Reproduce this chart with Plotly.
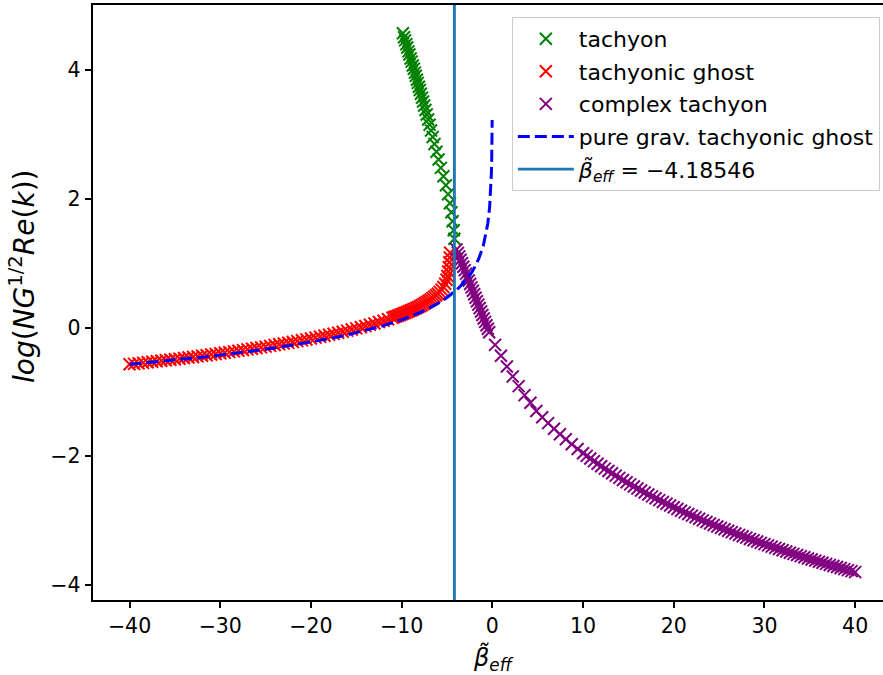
import plotly.graph_objects as go

# ---------------- data ----------------
BETA_EFF = -4.18546

green_x = [-9.86, -9.73, -9.62, -9.49, -9.38, -9.25, -9.14, -9.01, -8.90, -8.77,
           -8.66, -8.54, -8.44, -8.32, -8.22, -8.10, -8.00, -7.88, -7.76, -7.64,
           -7.52, -7.38, -7.24, -7.08, -6.92, -6.76, -6.58, -6.38, -6.16, -5.93,
           -5.68, -5.40, -5.12, -4.88, -4.68, -4.52, -4.38, -4.26, -4.19]
green_y = [4.57, 4.51, 4.46, 4.40, 4.35, 4.29, 4.24, 4.18, 4.13, 4.07,
           4.02, 3.96, 3.91, 3.85, 3.80, 3.74, 3.69, 3.63, 3.57, 3.51,
           3.45, 3.38, 3.31, 3.23, 3.15, 3.06, 2.96, 2.85, 2.73, 2.61,
           2.48, 2.35, 2.21, 2.07, 1.93, 1.79, 1.65, 1.51, 1.38]

red_x = [-40.0, -39.5, -39.0, -38.5, -38.0, -37.5, -37.0, -36.5, -36.0, -35.5,
         -35.0, -34.5, -34.0, -33.5, -33.0, -32.5, -32.0, -31.5, -31.0, -30.5,
         -30.0, -29.5, -29.0, -28.5, -28.0, -27.5, -27.0, -26.5, -26.0, -25.5,
         -25.0, -24.5, -24.0, -23.5, -23.0, -22.5, -22.0, -21.5, -21.0, -20.5,
         -20.0, -19.5, -19.0, -18.5, -18.0, -17.5, -17.0, -16.5, -16.0, -15.5,
         -15.0, -14.5, -14.0, -13.5, -13.0, -12.5, -12.0, -11.5, -11.0,
         -10.8, -10.6, -10.4, -10.2, -10.0, -9.8, -9.6, -9.4, -9.2, -9.0,
         -8.8, -8.6, -8.4, -8.2, -8.0, -7.8, -7.6, -7.4, -7.2, -7.0,
         -6.8, -6.6, -6.4, -6.2, -6.0, -5.8, -5.6, -5.4, -5.2,
         -5.05, -4.95, -4.87, -4.80, -4.74, -4.69, -4.65]
red_y = [-0.572, -0.565, -0.557, -0.549, -0.541, -0.533, -0.525, -0.517, -0.509, -0.501,
         -0.492, -0.484, -0.474, -0.466, -0.457, -0.448, -0.439, -0.430, -0.420, -0.411,
         -0.401, -0.391, -0.382, -0.371, -0.361, -0.351, -0.340, -0.330, -0.318, -0.308,
         -0.297, -0.285, -0.273, -0.261, -0.249, -0.237, -0.224, -0.211, -0.199, -0.185,
         -0.171, -0.157, -0.143, -0.128, -0.113, -0.098, -0.082, -0.065, -0.049, -0.031,
         -0.014, 0.004, 0.024, 0.043, 0.063, 0.085, 0.106, 0.129, 0.152,
         0.163, 0.173, 0.183, 0.194, 0.205, 0.217, 0.228, 0.240, 0.252, 0.265,
         0.277, 0.290, 0.303, 0.317, 0.331, 0.347, 0.363, 0.380, 0.398, 0.416,
         0.436, 0.456, 0.477, 0.500, 0.525, 0.554, 0.588, 0.628, 0.679,
         0.741, 0.801, 0.869, 0.937, 1.013, 1.088, 1.162]

purple_x = [-3.95, -3.8, -3.65, -3.5, -3.35, -3.2, -3.05, -2.9, -2.75, -2.6,
            -2.45, -2.3, -2.15, -2.0, -1.85, -1.7, -1.55, -1.4, -1.25, -1.1,
            -0.95, -0.8, -0.65, -0.5, -0.35,
            0.3, 0.95, 1.6, 2.25, 2.9, 3.55, 4.2, 4.85, 5.5, 6.15,
            6.8, 7.45, 8.1, 8.75, 9.4, 10.0,
            10.4, 10.8, 11.2, 11.6, 12.0, 12.4, 12.8, 13.2, 13.6, 14.0,
            14.4, 14.8, 15.2, 15.6, 16.0, 16.4, 16.8, 17.2, 17.6, 18.0,
            18.4, 18.8, 19.2, 19.6, 20.0, 20.4, 20.8, 21.2, 21.6, 22.0,
            22.4, 22.8, 23.2, 23.6, 24.0, 24.4, 24.8, 25.2, 25.6, 26.0,
            26.4, 26.8, 27.2, 27.6, 28.0, 28.4, 28.8, 29.2, 29.6, 30.0,
            30.4, 30.8, 31.2, 31.6, 32.0, 32.4, 32.8, 33.2, 33.6, 34.0,
            34.4, 34.8, 35.2, 35.6, 36.0, 36.4, 36.8, 37.2, 37.6, 38.0,
            38.4, 38.8, 39.2, 39.6, 40.0]
purple_y = [1.212, 1.159, 1.105, 1.052, 0.998, 0.944, 0.891, 0.837, 0.784, 0.730,
            0.677, 0.623, 0.570, 0.516, 0.462, 0.409, 0.355, 0.302, 0.248, 0.195,
            0.141, 0.088, 0.034, -0.020, -0.073,
            -0.27, -0.44, -0.605, -0.76, -0.91, -1.05, -1.17, -1.296, -1.393, -1.485,
            -1.573, -1.657, -1.737, -1.813, -1.887, -1.952,
            -1.994, -2.036, -2.076, -2.116, -2.154, -2.192, -2.229, -2.265, -2.301, -2.336,
            -2.370, -2.404, -2.437, -2.469, -2.501, -2.532, -2.563, -2.594, -2.623, -2.653,
            -2.681, -2.710, -2.738, -2.765, -2.793, -2.819, -2.846, -2.872, -2.897, -2.922,
            -2.947, -2.972, -2.996, -3.020, -3.044, -3.067, -3.090, -3.113, -3.135, -3.157,
            -3.179, -3.201, -3.222, -3.243, -3.264, -3.285, -3.305, -3.325, -3.345, -3.365,
            -3.385, -3.404, -3.423, -3.442, -3.461, -3.479, -3.498, -3.516, -3.534, -3.552,
            -3.569, -3.587, -3.604, -3.621, -3.638, -3.655, -3.672, -3.688, -3.704, -3.721,
            -3.737, -3.753, -3.769, -3.784, -3.800]

blue_x = [-40, -38, -36, -34, -32, -30, -28, -26, -24, -22, -20, -18, -16, -14, -12,
          -10, -9, -8, -7, -6, -5, -4.5, -4, -3.5, -3, -2.5, -2, -1.5, -1, -0.7,
          -0.5, -0.3, -0.2, -0.15, -0.1, -0.07, -0.05, -0.04, -0.03, -0.02]
blue_y = [-0.572, -0.547, -0.519, -0.491, -0.461, -0.429, -0.394, -0.357, -0.317, -0.273,
          -0.226, -0.173, -0.115, -0.048, 0.029, 0.120, 0.173, 0.232, 0.298, 0.375,
          0.466, 0.519, 0.578, 0.644, 0.721, 0.812, 0.924, 1.068, 1.270, 1.448,
          1.616, 1.871, 2.074, 2.218, 2.420, 2.598, 2.766, 2.878, 3.021, 3.224]

x_ticks = [-40, -30, -20, -10, 0, 10, 20, 30, 40]
y_ticks = [-4, -2, 0, 2, 4]

# ---------------- figure ----------------
FONT = "DejaVu Sans"
W, H = 883, 675
L, R, T, B = 93, 0, 5, 75
PW, PH = W - L - R, H - T - B

fig = go.Figure()


def xmark(color):
    return dict(symbol="x-thin", size=12, color=color, line=dict(color=color, width=2))


fig.add_trace(go.Scatter(x=green_x, y=green_y, mode="markers", name="tachyon",
                         marker=xmark("#008000"), legendgroup="a"))
fig.add_trace(go.Scatter(x=red_x, y=red_y, mode="markers", name="tachyonic ghost",
                         marker=xmark("#ff0000"), legendgroup="b"))
fig.add_trace(go.Scatter(x=purple_x, y=purple_y, mode="markers", name="complex tachyon",
                         marker=xmark("#800080"), legendgroup="c"))
fig.add_trace(go.Scatter(x=blue_x, y=blue_y, mode="lines", name="pure grav. tachyonic ghost",
                         line=dict(color="#0000ff", width=3, dash="12px,5px"),
                         legendgroup="d"))

fig.add_shape(type="line", xref="x", yref="paper", x0=BETA_EFF, x1=BETA_EFF, y0=0, y1=1,
              line=dict(color="#1f77b4", width=2.9), layer="above",
              showlegend=True, legendgroup="e",
              name="<i>β̃</i><sub><i>eff</i></sub> = −4.18546")

axis_common = dict(showgrid=False, zeroline=False, showline=True, linecolor="black",
                   linewidth=1.5, ticks="outside", ticklen=6.7, tickwidth=1.5,
                   tickcolor="black", tickfont=dict(family=FONT, size=20.5, color="black"))

fig.update_layout(
    width=W, height=H,
    margin=dict(l=L, r=R, t=T, b=B, pad=0),
    paper_bgcolor="white", plot_bgcolor="white",
    font=dict(family=FONT, size=20.5, color="black"),
    xaxis=dict(range=[-44.03, 43.07], tickvals=x_ticks, mirror=True, **axis_common),
    yaxis=dict(range=[-4.233, 5.01], tickvals=y_ticks, mirror=False, **axis_common),
    legend=dict(x=0.996, y=0.98, xanchor="right", yanchor="top",
                bgcolor="rgba(255,255,255,0.8)", bordercolor="#cccccc", borderwidth=1,
                font=dict(family=FONT, size=22, color="black"),
                tracegroupgap=1, itemwidth=56),
    annotations=[
        dict(text="<i>β̃</i><sub><i>eff</i></sub>", xref="paper", yref="paper",
             x=(493 - L) / PW, y=(600 - 640) / PH,
             xanchor="center", yanchor="top", showarrow=False,
             font=dict(family=FONT, size=24, color="black")),
        dict(text="<i>log</i>(<i>NG</i><sup>1/2</sup><i>Re</i>(<i>k</i>))",
             xref="paper", yref="paper",
             x=(22 - L) / PW, y=(600 - 276) / PH,
             xanchor="center", yanchor="middle", textangle=-90, showarrow=False,
             font=dict(family=FONT, size=28, color="black")),
    ],
)

fig.write_html("out.html")
